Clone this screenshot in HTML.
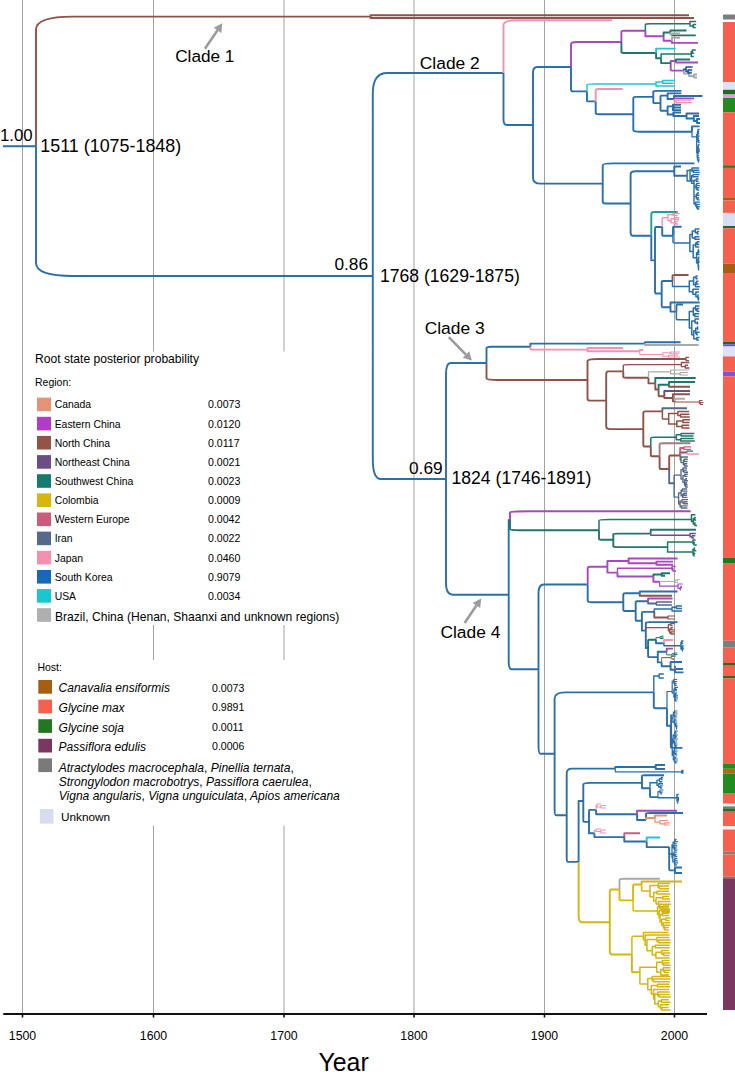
<!DOCTYPE html>
<html><head><meta charset="utf-8"><style>
html,body{margin:0;padding:0;background:#fff;}
svg{display:block;font-family:"Liberation Sans",sans-serif;}
</style></head><body>
<svg width="735" height="1072" viewBox="0 0 735 1072">
<rect width="735" height="1072" fill="#fff"/>
<line x1="22.5" y1="0" x2="22.5" y2="1014" stroke="#a3a3a3" stroke-width="1"/>
<line x1="153.5" y1="0" x2="153.5" y2="1014" stroke="#a3a3a3" stroke-width="1"/>
<line x1="284.0" y1="0" x2="284.0" y2="1014" stroke="#a3a3a3" stroke-width="1"/>
<line x1="414.0" y1="0" x2="414.0" y2="1014" stroke="#a3a3a3" stroke-width="1"/>
<line x1="544.5" y1="0" x2="544.5" y2="1014" stroke="#a3a3a3" stroke-width="1"/>
<line x1="674.5" y1="0" x2="674.5" y2="1014" stroke="#a3a3a3" stroke-width="1"/>
<rect x="24" y="351.5" width="320" height="273.5" fill="#fff"/>
<rect x="24" y="660" width="320" height="165.5" fill="#fff"/>
<text x="35" y="363" font-size="12.1">Root state posterior probability</text>
<text x="35" y="385.8" font-size="10.5">Region:</text>
<rect x="37" y="397.6" width="14" height="13.6" fill="#e39474"/>
<text x="54.7" y="408.4" font-size="10.4">Canada</text>
<text x="208" y="408.4" font-size="10.6">0.0073</text>
<rect x="37" y="416.8" width="14" height="13.6" fill="#b23cc6"/>
<text x="54.7" y="427.6" font-size="10.4">Eastern China</text>
<text x="208" y="427.6" font-size="10.6">0.0120</text>
<rect x="37" y="435.9" width="14" height="13.6" fill="#955247"/>
<text x="54.7" y="446.7" font-size="10.4">North China</text>
<text x="208" y="446.7" font-size="10.6">0.0117</text>
<rect x="37" y="455.1" width="14" height="13.6" fill="#6c4d85"/>
<text x="54.7" y="465.9" font-size="10.4">Northeast China</text>
<text x="208" y="465.9" font-size="10.6">0.0021</text>
<rect x="37" y="474.2" width="14" height="13.6" fill="#167a6e"/>
<text x="54.7" y="485.0" font-size="10.4">Southwest China</text>
<text x="208" y="485.0" font-size="10.6">0.0023</text>
<rect x="37" y="493.4" width="14" height="13.6" fill="#d6b60f"/>
<text x="54.7" y="504.2" font-size="10.4">Colombia</text>
<text x="208" y="504.2" font-size="10.6">0.0009</text>
<rect x="37" y="512.5" width="14" height="13.6" fill="#cc5c7c"/>
<text x="54.7" y="523.3" font-size="10.4">Western Europe</text>
<text x="208" y="523.3" font-size="10.6">0.0042</text>
<rect x="37" y="531.6" width="14" height="13.6" fill="#56698a"/>
<text x="54.7" y="542.4" font-size="10.4">Iran</text>
<text x="208" y="542.4" font-size="10.6">0.0022</text>
<rect x="37" y="550.8" width="14" height="13.6" fill="#f58fae"/>
<text x="54.7" y="561.6" font-size="10.4">Japan</text>
<text x="208" y="561.6" font-size="10.6">0.0460</text>
<rect x="37" y="570.0" width="14" height="13.6" fill="#1769b5"/>
<text x="54.7" y="580.8" font-size="10.4">South Korea</text>
<text x="208" y="580.8" font-size="10.6">0.9079</text>
<rect x="37" y="589.1" width="14" height="13.6" fill="#18c8cc"/>
<text x="54.7" y="599.9" font-size="10.4">USA</text>
<text x="208" y="599.9" font-size="10.6">0.0034</text>
<rect x="37" y="608.2" width="14" height="13.6" fill="#afafaf"/>
<text x="55" y="620.5" font-size="12.1">Brazil, China (Henan, Shaanxi and unknown regions)</text>
<text x="37.4" y="671.2" font-size="10.5">Host:</text>
<rect x="38.3" y="680.0" width="13.7" height="13.7" fill="#a75e10"/>
<text x="58.6" y="692.3" font-size="12" font-style="italic">Canavalia ensiformis</text>
<text x="212" y="691.5" font-size="10.6">0.0073</text>
<rect x="38.3" y="699.6" width="13.7" height="13.7" fill="#f5604f"/>
<text x="58.6" y="711.9" font-size="12" font-style="italic">Glycine max</text>
<text x="212" y="711.1" font-size="10.6">0.9891</text>
<rect x="38.3" y="719.2" width="13.7" height="13.7" fill="#23781f"/>
<text x="58.6" y="731.5" font-size="12" font-style="italic">Glycine soja</text>
<text x="212" y="730.7" font-size="10.6">0.0011</text>
<rect x="38.3" y="738.8" width="13.7" height="13.7" fill="#7a3860"/>
<text x="58.6" y="751.1" font-size="12" font-style="italic">Passiflora edulis</text>
<text x="212" y="750.3" font-size="10.6">0.0006</text>
<rect x="38.3" y="758.4" width="13.7" height="13.7" fill="#7a7a7a"/>
<text x="58.7" y="771.5" font-size="12.05" font-style="italic">Atractylodes macrocephala<tspan font-style="normal">,</tspan> Pinellia ternata<tspan font-style="normal">,</tspan></text>
<text x="58.7" y="785.5" font-size="12.05" font-style="italic">Strongylodon macrobotrys<tspan font-style="normal">,</tspan> Passiflora caerulea<tspan font-style="normal">,</tspan></text>
<text x="58.7" y="799.5" font-size="12.05" font-style="italic">Vigna angularis<tspan font-style="normal">,</tspan> Vigna unguiculata<tspan font-style="normal">,</tspan> Apios americana</text>
<rect x="39.9" y="809" width="13.6" height="14.6" fill="#d5ddee"/>
<text x="61" y="821" font-size="11.8">Unknown</text>
<line x1="3.3" y1="1014" x2="707" y2="1014" stroke="#111" stroke-width="2"/>
<line x1="22.5" y1="1013" x2="22.5" y2="1017.5" stroke="#111" stroke-width="1.6"/>
<line x1="153.5" y1="1013" x2="153.5" y2="1017.5" stroke="#111" stroke-width="1.6"/>
<line x1="284.0" y1="1013" x2="284.0" y2="1017.5" stroke="#111" stroke-width="1.6"/>
<line x1="414.0" y1="1013" x2="414.0" y2="1017.5" stroke="#111" stroke-width="1.6"/>
<line x1="544.5" y1="1013" x2="544.5" y2="1017.5" stroke="#111" stroke-width="1.6"/>
<line x1="674.5" y1="1013" x2="674.5" y2="1017.5" stroke="#111" stroke-width="1.6"/>
<text x="22.5" y="1040" text-anchor="middle" font-size="12.3">1500</text>
<text x="153.5" y="1040" text-anchor="middle" font-size="12.3">1600</text>
<text x="284.0" y="1040" text-anchor="middle" font-size="12.3">1700</text>
<text x="414.0" y="1040" text-anchor="middle" font-size="12.3">1800</text>
<text x="544.5" y="1040" text-anchor="middle" font-size="12.3">1900</text>
<text x="674.5" y="1040" text-anchor="middle" font-size="12.3">2000</text>
<path d="M36.0,146.3V29.6Q36.0,16.6 72.8,16.6H370.5 M370.5,16.6V15.2H689.0 M370.5,16.6V18.0H694.0 M672.5,281.0V275.6Q672.5,275.0 674.3,275.0H688.6 M486.5,363.0V378.3Q486.5,380.0 497.6,380.0H587.5 M587.5,380.0V361.1Q587.5,359.0 598.3,359.0H686.0 M587.5,380.0V398.5Q587.5,400.6 589.6,400.6H606.2 M606.2,400.6V374.3Q606.2,371.4 608.1,371.4H623.3 M623.3,371.4V377.1Q623.3,377.7 626.1,377.7H648.5 M648.5,377.7V383.4H655.3 M655.3,383.4V389.5H658.6 M669.0,384.8V386.7H690.0 M658.6,389.5V395.5Q658.6,396.2 659.2,396.2H664.3 M664.3,396.2V398.0H672.9 M672.9,398.0V394.3H690.0 M672.9,398.0V401.3H674.8 M606.2,400.6V426.2Q606.2,429.1 610.3,429.1H643.3 M643.3,429.1V413.2Q643.3,411.4 645.4,411.4H662.4 M643.3,429.1V444.8Q643.3,446.5 644.1,446.5H650.8 M650.8,446.5V455.3Q650.8,456.3 651.8,456.3H659.6 M659.6,456.3V467.7Q659.6,469.0 660.7,469.0H669.2 M669.2,469.0V456.9Q669.2,455.5 670.4,455.5H680.2 M680.2,455.5V452.5H687.0 M639.8,593.3V595.8H672.0 M654.3,611.9V617.5H668.0" stroke="#8e5248" stroke-width="1.9" fill="none" stroke-linejoin="round"/>
<path d="M36.0,146.3V263.0Q36.0,276.0 73.0,276.0H372.8 M372.8,276.0V93.3Q372.8,73.0 387.2,73.0H503.5 M503.5,73.0V119.8Q503.5,125.0 506.7,125.0H533.0 M533.0,125.0V72.8Q533.0,67.0 537.2,67.0H571.0 M571.0,67.0V89.0Q571.0,91.4 572.8,91.4H587.0 M587.0,91.4V100.4Q587.0,101.4 588.0,101.4H595.7 M595.7,101.4V113.0Q595.7,114.3 599.8,114.3H633.3 M633.3,114.3V98.6Q633.3,96.9 635.5,96.9H653.3 M653.3,96.9V91.5Q653.3,90.9 656.4,90.9H681.4 M653.3,96.9V102.5Q653.3,103.1 654.1,103.1H660.5 M660.5,103.1V96.3Q660.5,95.6 661.3,95.6H667.6 M667.6,95.6V93.4H681.4 M667.6,95.6V99.0H674.0 M674.0,99.0V96.0H702.4 M660.5,103.1V109.9Q660.5,110.7 661.3,110.7H667.6 M667.6,110.7V106.4H672.9 M672.9,106.4V104.8H681.0 M672.9,106.4V107.5H681.0 M672.9,106.4V110.2H681.0 M667.6,110.7V114.5H673.3 M673.3,114.5V112.6H681.0 M673.3,114.5V116.0H686.5 M686.5,116.0V113.5H699.0 M686.5,116.0V118.5H693.8 M693.8,118.5V116.0H699.0 M693.8,118.5V121.0H697.0 M697.0,121.0V119.0H700.0 M697.0,121.0V123.0H700.0 M633.3,114.3V130.0Q633.3,131.7 639.8,131.7H692.0 M692.0,131.7V126.4H699.5 M533.0,125.0V177.7Q533.0,183.6 540.7,183.6H602.7 M602.7,183.6V165.4Q602.7,163.4 612.8,163.4H694.5 M602.7,183.6V201.5Q602.7,203.5 605.8,203.5H630.6 M630.6,203.5V174.4Q630.6,171.2 635.4,171.2H674.3 M674.3,171.2V166.5H681.0 M674.3,171.2V175.8H687.1 M630.6,203.5V232.6Q630.6,235.8 632.9,235.8H651.3 M651.3,235.8V260.4H655.0 M655.0,260.4V230.3Q655.0,227.0 655.8,227.0H662.2 M662.2,227.0V234.9Q662.2,235.8 663.4,235.8H673.0 M673.0,235.8V227.7Q673.0,226.8 673.9,226.8H681.6 M655.0,260.4V290.2Q655.0,293.5 655.7,293.5H661.7 M661.7,293.5V282.2Q661.7,281.0 662.9,281.0H672.5 M661.7,293.5V305.8Q661.7,307.2 662.7,307.2H670.5 M670.5,307.2V302.5H699.7 M670.5,307.2V311.6H676.4 M676.4,311.6V305.3Q676.4,304.6 677.1,304.6H683.0 M372.8,276.0V458.7Q372.8,479.0 380.9,479.0H446.0 M446.0,479.0V374.6Q446.0,363.0 450.5,363.0H486.5 M486.5,363.0V348.3Q486.5,346.7 491.3,346.7H530.4 M530.4,346.7V343.6H645.0 M645.0,343.6V342.3H680.6 M446.0,479.0V583.1Q446.0,594.7 452.9,594.7H508.7 M508.7,594.7V520.0H510.0 M508.7,594.7V661.8Q508.7,669.3 512.0,669.3H538.5 M538.5,669.3V593.0Q538.5,584.5 543.9,584.5H587.7 M587.7,584.5V600.4Q587.7,602.2 591.6,602.2H623.3 M623.3,602.2V594.2Q623.3,593.3 625.1,593.3H639.8 M639.8,593.3V591.5H677.5 M623.3,602.2V610.1Q623.3,611.0 624.7,611.0H635.7 M635.7,611.0V602.3Q635.7,601.3 637.1,601.3H648.1 M635.7,611.0V619.7Q635.7,620.7 636.4,620.7H641.9 M641.9,620.7V612.8Q641.9,611.9 643.3,611.9H654.3 M641.9,620.7V630.6H645.8 M645.8,630.6V623.0Q645.8,622.1 649.3,622.1H677.5 M645.8,630.6V648.0H648.1 M656.0,639.8V643.3H664.0 M648.1,648.0V656.2Q648.1,657.1 649.2,657.1H657.8 M657.8,657.1V651.8H666.7 M657.8,657.1V662.4H661.7 M661.7,662.4V666.3H670.6 M670.6,666.3V662.0H682.0 M670.6,666.3V669.8H675.0 M675.0,669.8V672.4H683.5 M675.0,669.8V669.0H683.0 M538.5,669.3V745.3Q538.5,753.8 540.3,753.8H554.6 M554.6,753.8V698.5Q554.6,692.4 565.5,692.4H653.8 M653.8,692.4V706.6Q653.8,708.2 655.3,708.2H667.0 M667.0,708.2V725.7H670.8 M670.8,725.7V745.7Q670.8,747.9 672.1,747.9H682.4 M554.6,753.8V809.1Q554.6,815.3 555.9,815.3H566.7 M566.7,815.3V773.3Q566.7,768.6 572.0,768.6H615.3 M615.3,768.6V767.0H655.7 M655.7,767.0V765.0H665.0 M655.7,767.0V769.0H665.0 M682.0,771.8V770.8H683.5 M682.0,771.8V772.8H683.5 M566.7,815.3V857.2Q566.7,861.9 568.0,861.9H578.6 M578.6,861.9V801.0H583.3 M583.3,801.0V784.7Q583.3,782.9 589.8,782.9H642.0 M642.0,782.9V776.0Q642.0,775.2 644.4,775.2H664.0 M642.0,782.9V788.2H650.0 M650.0,788.2V796.2Q650.0,797.1 650.9,797.1H658.0 M583.3,801.0V819.8Q583.3,821.9 583.9,821.9H589.0 M589.0,821.9V811.1Q589.0,809.9 589.8,809.9H596.1 M596.1,809.9V814.3H637.1 M637.1,814.3V820.0H646.0 M646.0,820.0V813.7Q646.0,813.0 650.1,813.0H683.0 M589.0,821.9V833.3H594.4 M594.4,833.3V837.1H624.3 M624.3,837.1V841.5H646.7 M646.7,841.5V847.1H669.2 M669.2,847.1V868.1Q669.2,870.4 669.8,870.4H675.0 M675.0,870.4V867.5H682.0 M675.0,870.4V873.0H682.0 M3,146.3H36" stroke="#2a6fa8" stroke-width="1.9" fill="none" stroke-linejoin="round"/>
<path d="M503.5,73.0V25.6Q503.5,20.3 515.4,20.3H612.0 M595.7,101.4V90.2Q595.7,89.0 598.7,89.0H622.7 M530.4,346.7V349.6H587.6 M587.6,349.6V348.0H622.9 M587.6,349.6V351.3H639.8 M639.8,351.3V350.0H643.0 M664.0,643.3V640.0H673.0" stroke="#f291b4" stroke-width="1.9" fill="none" stroke-linejoin="round"/>
<path d="M571.0,67.0V44.5Q571.0,42.0 576.5,42.0H621.4 M621.4,42.0V31.8Q621.4,30.7 624.0,30.7H645.4 M645.4,30.7V36.2H663.6 M663.6,36.2V40.7H671.9 M671.9,40.7V42.9H698.0 M670.7,63.1V61.0H676.0 M676.0,61.0V62.5H698.0 M670.7,63.1V69.8Q670.7,70.6 672.1,70.6H683.8 M674.0,99.0V98.4H694.0 M510.0,520.0V512.2Q510.0,511.3 529.9,511.3H690.6 M587.7,584.5V568.6Q587.7,566.8 589.9,566.8H607.4 M607.4,566.8V561.0H628.6 M628.6,561.0V558.5H677.5 M628.6,561.0V563.2H656.4 M656.4,563.2V561.6H673.0 M656.4,563.2V564.8H673.0 M607.4,566.8V572.6H617.5 M617.5,572.6V576.5H653.4 M653.4,576.5V581.8H659.6 M648.1,601.3V598.5H672.5 M666.7,651.8V648.6H673.0 M675.0,669.8V665.8H675.0 M637.1,814.3V810.7H677.0" stroke="#a848bc" stroke-width="1.9" fill="none" stroke-linejoin="round"/>
<path d="M645.4,30.7V24.4Q645.4,23.8 650.3,23.8H690.0 M690.0,23.8V21.5H696.2 M690.0,23.8V26.0H693.2 M693.2,26.0V24.5H696.2 M693.2,26.0V27.5H695.8 M661.1,58.2V54.1H691.3 M691.3,54.1V51.6H692.4 M692.4,51.6V50.0H695.8 M692.4,51.6V53.2H693.9 M691.3,54.1V56.5H693.8 M650.8,446.5V438.2Q650.8,437.2 653.6,437.2H676.3 M676.3,437.2V434.8H681.1 M681.1,434.8V433.5H694.4 M681.1,434.8V436.0H693.5 M676.3,437.2V439.8H680.8 M680.8,439.8V438.5H693.6 M680.8,439.8V441.0H694.8 M599.0,530.3V520.5Q599.0,519.4 609.2,519.4H691.5 M691.5,519.4V514.8H695.4 M691.5,519.4V521.4H693.3 M693.3,521.4V518.8H694.6 M694.6,518.8V517.4H695.8 M694.6,518.8V520.1H696.1 M693.3,521.4V524.1H694.9 M694.9,524.1V522.8H695.4 M694.9,524.1V525.4H697.0 M667.6,547.1V541.9H693.0 M693.0,541.9V540.0H695.7 M693.0,541.9V543.8H694.0 M694.0,543.8V542.5H695.0 M694.0,543.8V545.0H696.8 M667.6,547.1V552.0H693.0 M693.0,552.0V549.3H694.4 M694.4,549.3V548.0H694.9 M694.4,549.3V550.7H696.3 M693.0,552.0V554.7H693.9 M693.9,554.7V553.3H695.3 M693.9,554.7V556.0H694.7" stroke="#1f766c" stroke-width="1.5" fill="none" stroke-linejoin="round"/>
<path d="M663.6,36.2V32.5H670.4 M670.4,32.5V30.5H686.5 M672.0,34.5V35.4H695.8 M621.4,42.0V51.9Q621.4,53.0 625.2,53.0H656.1 M656.1,53.0V58.2H661.1 M661.1,58.2V63.1H670.7 M676.0,61.0V59.5H690.0 M655.3,383.4V378.0H695.7 M658.6,389.5V384.8H669.0 M669.0,384.8V382.0H695.0 M510.0,520.0V529.3Q510.0,530.3 519.8,530.3H599.0 M599.0,530.3V538.8Q599.0,539.8 600.6,539.8H613.3 M613.3,539.8V534.2Q613.3,533.6 617.4,533.6H650.7 M650.7,533.6V529.7H696.0 M613.3,539.8V546.4Q613.3,547.1 619.3,547.1H667.6 M653.4,576.5V574.5H661.7 M661.7,574.5V573.2H670.0 M661.7,574.5V575.8H665.0 M648.1,648.0V640.6Q648.1,639.8 649.0,639.8H656.0" stroke="#1f766c" stroke-width="1.9" fill="none" stroke-linejoin="round"/>
<path d="M670.4,32.5V34.5H672.0 M672.0,34.5V33.5H680.0 M671.9,40.7V37.7H680.0 M683.8,70.6V73.5H689.0 M689.0,73.5V72.5H692.0 M689.0,73.5V76.0H694.0 M694.0,76.0V74.5H697.0 M694.0,76.0V77.5H697.0 M645.0,343.6V345.0H698.6 M674.8,401.3V398.8H685.0 M619.5,889.5V879.9Q619.5,878.8 624.0,878.8H660.0" stroke="#a9a9a9" stroke-width="1.9" fill="none" stroke-linejoin="round"/>
<path d="M656.1,53.0V48.6H675.6 M646.7,841.5V837.5H660.0" stroke="#25c4cc" stroke-width="1.9" fill="none" stroke-linejoin="round"/>
<path d="M683.8,70.6V69.2H686.0 M686.0,69.2V67.0H692.6 M686.0,69.2V71.5H688.1 M688.1,71.5V70.0H692.2 M688.1,71.5V73.0H691.6" stroke="#1f4f8a" stroke-width="1.5" fill="none" stroke-linejoin="round"/>
<path d="M587.0,91.4V84.7Q587.0,83.9 594.6,83.9H656.0 M656.0,83.9V81.9H662.6 M662.6,81.9V80.5H674.6 M662.6,81.9V83.2H673.5 M656.0,83.9V86.0H674.3" stroke="#25c4cc" stroke-width="1.5" fill="none" stroke-linejoin="round"/>
<path d="M674.0,99.0V101.4H676.0 M676.0,101.4V100.2H691.3 M676.0,101.4V102.6H691.8" stroke="#f291b4" stroke-width="1.2" fill="none" stroke-linejoin="round"/>
<path d="M692.0,131.7V136.9H696.7 M696.7,136.9V134.5H697.5 M697.5,134.5V131.1H698.0 M698.0,131.1V129.5H699.7 M698.0,131.1V132.8H698.3 M698.3,132.8V131.7H699.2 M698.3,132.8V133.8H699.2 M697.5,134.5V137.9H697.9 M697.9,137.9V136.0H699.5 M697.9,137.9V139.8H698.1 M698.1,139.8V138.2H698.9 M698.1,139.8V141.4H698.5 M698.5,141.4V140.3H699.7 M698.5,141.4V142.5H699.7 M696.7,136.9V152.8H697.2 M697.2,152.8V148.2H698.1 M698.1,148.2V145.8H698.5 M698.5,145.8V144.7H699.6 M698.5,145.8V146.8H699.0 M698.1,148.2V150.6H698.4 M698.4,150.6V149.0H699.8 M698.4,150.6V152.2H698.5 M698.5,152.2V151.2H700.0 M698.5,152.2V153.3H698.9 M697.2,152.8V157.4H697.5 M697.5,157.4V155.5H699.0 M697.5,157.4V159.3H697.9 M697.9,159.3V157.7H699.6 M697.9,159.3V160.9H698.5 M698.5,160.9V159.8H699.8 M698.5,160.9V162.0H698.8 M669.2,847.1V854.0H672.0 M672.0,854.0V844.8H673.1 M673.1,844.8V842.2H674.5 M674.5,842.2V840.6H675.1 M675.1,840.6V839.5H676.5 M675.1,840.6V841.6H677.9 M674.5,842.2V843.8H677.1 M673.1,844.8V847.5H674.0 M674.0,847.5V845.9H677.4 M674.0,847.5V849.1H674.6 M674.6,849.1V848.0H676.7 M674.6,849.1V850.1H677.5 M672.0,854.0V857.8H672.8 M672.8,857.8V853.8H673.9 M673.9,853.8V852.2H676.8 M673.9,853.8V855.4H675.0 M675.0,855.4V854.4H676.7 M675.0,855.4V856.5H677.3 M672.8,857.8V861.8H674.4 M674.4,861.8V859.7H675.0 M675.0,859.7V858.6H677.4 M675.0,859.7V860.8H677.9 M674.4,861.8V863.9H674.9 M674.9,863.9V862.9H678.0 M674.9,863.9V865.0H676.9" stroke="#2a6fa8" stroke-width="1.302" fill="none" stroke-linejoin="round"/>
<path d="M687.1,175.8V170.5H690.0 M690.0,170.5V169.7H692.0 M692.0,169.7V168.0H699.2 M692.0,169.7V171.3H693.4 M693.4,171.3V170.2H699.3 M693.4,171.3V172.4H699.8 M690.0,170.5V179.5H691.6 M691.6,179.5V175.7H693.0 M693.0,175.7V174.6H699.5 M693.0,175.7V176.8H698.5 M691.6,179.5V183.4H694.1 M694.1,183.4V180.1H696.3 M696.3,180.1V179.0H698.7 M696.3,180.1V181.2H698.5 M694.1,183.4V186.7H696.1 M696.1,186.7V184.5H696.7 M696.7,184.5V183.4H699.7 M696.7,184.5V185.6H699.9 M696.1,186.7V188.9H697.0 M697.0,188.9V187.8H699.3 M697.0,188.9V190.0H699.2 M687.1,175.8V181.0H694.0 M694.0,181.0V196.4H696.3 M696.3,196.4V194.1H697.4 M697.4,194.1V193.0H699.1 M697.4,194.1V195.3H699.3 M696.3,196.4V198.7H697.7 M697.7,198.7V197.6H699.0 M697.7,198.7V199.9H699.6 M694.0,181.0V204.1H695.6 M695.6,204.1V202.1H699.9 M695.6,204.1V206.1H696.7 M696.7,206.1V204.4H699.7 M696.7,206.1V207.9H697.5 M697.5,207.9V206.7H699.9 M697.5,207.9V209.0H699.3" stroke="#2a6fa8" stroke-width="1.426" fill="none" stroke-linejoin="round"/>
<path d="M651.3,235.8V214.4Q651.3,212.0 654.2,212.0H677.7" stroke="#1f9e96" stroke-width="1.9" fill="none" stroke-linejoin="round"/>
<path d="M662.2,227.0V218.6Q662.2,217.7 662.8,217.7H668.0 M668.0,217.7V214.6H673.1 M673.1,214.6V213.5H679.5 M673.1,214.6V215.6H677.7 M668.0,217.7V220.8H671.1 M671.1,220.8V218.8H675.0 M675.0,218.8V217.7H679.2 M675.0,218.8V219.8H679.0 M671.1,220.8V222.9H675.4 M675.4,222.9V221.9H677.8 M675.4,222.9V224.0H678.3" stroke="#f291b4" stroke-width="1.364" fill="none" stroke-linejoin="round"/>
<path d="M673.0,235.8V242.2Q673.0,242.9 674.9,242.9H689.9 M689.9,242.9V234.4H692.3 M692.3,234.4V230.9H695.3 M695.3,230.9V229.0H699.5 M695.3,230.9V232.8H697.4 M697.4,232.8V231.6H699.2 M697.4,232.8V234.1H698.6 M692.3,234.4V238.0H695.0 M695.0,238.0V236.7H699.4 M695.0,238.0V239.2H699.7 M689.9,242.9V251.4H693.2 M693.2,251.4V245.0H695.7 M695.7,245.0V243.1H697.2 M697.2,243.1V241.8H699.5 M697.2,243.1V244.4H699.3 M695.7,245.0V246.9H699.2 M693.2,251.4V257.8H696.6 M696.6,257.8V252.7H698.0 M698.0,252.7V250.8H698.5 M698.5,250.8V249.5H698.9 M698.5,250.8V252.1H699.6 M698.0,252.7V254.6H699.6 M696.6,257.8V263.0H698.2 M698.2,263.0V259.1H698.5 M698.5,259.1V257.2H699.5 M698.5,259.1V261.0H698.5 M698.5,261.0V259.8H699.2 M698.5,261.0V262.3H699.7 M698.2,263.0V266.8H698.5 M698.5,266.8V264.9H699.0 M698.5,266.8V268.7H698.5 M698.5,268.7V267.4H697.6 M698.5,268.7V270.0H698.3 M672.5,281.0V286.4H689.3 M689.3,286.4V281.0H693.6 M693.6,281.0V277.3H696.1 M696.1,277.3V276.0H697.6 M696.1,277.3V278.7H697.7 M693.6,281.0V284.7H695.6 M695.6,284.7V282.7H696.5 M696.5,282.7V281.3H698.5 M696.5,282.7V284.0H698.6 M695.6,284.7V286.7H699.8 M689.3,286.4V291.8H692.9 M692.9,291.8V289.3H699.0 M692.9,291.8V294.3H695.9 M695.9,294.3V292.0H699.0 M695.9,294.3V296.7H697.9 M697.9,296.7V294.7H697.7 M697.9,296.7V298.7H698.5 M698.5,298.7V297.3H697.8 M698.5,298.7V300.0H697.7 M676.4,311.6V318.9Q676.4,319.7 677.8,319.7H689.3 M689.3,319.7V311.6H693.3 M693.3,311.6V308.0H695.5 M695.5,308.0V306.0H699.5 M695.5,308.0V309.9H697.1 M697.1,309.9V308.6H699.3 M697.1,309.9V311.2H699.4 M693.3,311.6V315.2H694.8 M694.8,315.2V313.8H699.2 M694.8,315.2V316.5H698.8 M689.3,319.7V327.9H691.7 M691.7,327.9V321.0H695.1 M695.1,321.0V319.1H699.1 M695.1,321.0V323.0H697.5 M697.5,323.0V321.7H697.6 M697.5,323.0V324.3H697.6 M691.7,327.9V334.8H693.7 M693.7,334.8V330.8H695.7 M695.7,330.8V328.2H697.6 M697.6,328.2V326.9H698.3 M697.6,328.2V329.5H698.0 M695.7,330.8V333.5H696.7 M696.7,333.5V332.2H699.6 M696.7,333.5V334.8H697.8 M693.7,334.8V338.7H696.8 M696.8,338.7V337.4H699.6 M696.8,338.7V340.0H698.9 M664.0,643.3V645.7H681.0 M681.0,645.7V642.2H681.7 M681.7,642.2V641.0H683.5 M681.7,642.2V643.5H683.2 M681.0,645.7V649.1H682.4 M682.4,649.1V647.2H682.5 M682.5,647.2V646.0H683.7 M682.5,647.2V648.5H683.9 M682.4,649.1V651.0H682.1 M658.0,797.1V797.7H677.0 M677.0,797.7V794.5H678.7 M677.0,797.7V800.9H677.6 M677.6,800.9V798.8H678.3 M678.3,798.8V797.3H678.2 M678.3,798.8V800.2H678.0 M677.6,800.9V803.0H678.3" stroke="#2a6fa8" stroke-width="1.5" fill="none" stroke-linejoin="round"/>
<path d="M639.8,351.3V354.5H662.8 M662.8,354.5V352.8H670.2 M670.2,352.8V352.0H679.9 M670.2,352.8V353.7H679.4 M662.8,354.5V356.2H668.5 M668.5,356.2V355.3H677.9 M668.5,356.2V357.0H679.9" stroke="#f291b4" stroke-width="1.054" fill="none" stroke-linejoin="round"/>
<path d="M686.0,359.0V357.3H689.0 M686.0,359.0V360.7H689.0" stroke="#8e5248" stroke-width="1.3" fill="none" stroke-linejoin="round"/>
<path d="M623.3,371.4V365.2Q623.3,364.6 629.7,364.6H681.4 M681.4,364.6V362.5H689.4 M681.4,364.6V366.6H685.3 M685.3,366.6V365.2H688.0 M685.3,366.6V368.0H689.3" stroke="#8e5248" stroke-width="1.364" fill="none" stroke-linejoin="round"/>
<path d="M648.5,377.7V371.9H670.6 M670.6,371.9V370.0H689.3 M670.6,371.9V373.8H680.1 M680.1,373.8V372.5H688.0 M680.1,373.8V375.0H687.9" stroke="#a9a9a9" stroke-width="1.24" fill="none" stroke-linejoin="round"/>
<path d="M664.3,396.2V391.0H690.0" stroke="#6c4d85" stroke-width="1.9" fill="none" stroke-linejoin="round"/>
<path d="M674.8,401.3V402.0H699.5 M699.5,402.0V400.5H702.6 M699.5,402.0V403.5H700.5 M700.5,403.5V402.5H703.4 M700.5,403.5V404.5H703.0" stroke="#8e5248" stroke-width="1.24" fill="none" stroke-linejoin="round"/>
<path d="M662.4,411.4V408.2H687.0 M669.2,469.0V483.3H674.1 M648.1,601.3V603.5H656.4" stroke="#56698a" stroke-width="1.9" fill="none" stroke-linejoin="round"/>
<path d="M662.4,411.4V418.2Q662.4,419.0 663.1,419.0H668.7 M668.7,419.0V413.6H677.9 M677.9,413.6V411.5H689.2 M677.9,413.6V415.6H680.6 M680.6,415.6V414.2H689.5 M680.6,415.6V417.0H689.8 M668.7,419.0V423.9H676.8 M676.8,423.9V421.1H682.9 M682.9,421.1V419.8H690.0 M682.9,421.1V422.5H689.5 M676.8,423.9V426.6H682.1 M682.1,426.6V425.2H689.2 M682.1,426.6V428.0H689.6" stroke="#8e5248" stroke-width="1.5" fill="none" stroke-linejoin="round"/>
<path d="M659.6,456.3V444.6Q659.6,443.3 663.0,443.3H690.4" stroke="#9a7f78" stroke-width="1.9" fill="none" stroke-linejoin="round"/>
<path d="M680.2,455.5V448.0H684.0 M624.3,837.1V833.3H640.0" stroke="#cc5c7c" stroke-width="1.9" fill="none" stroke-linejoin="round"/>
<path d="M684.0,448.0V446.8H691.0 M684.0,448.0V449.3H691.0" stroke="#cc5c7c" stroke-width="1.3" fill="none" stroke-linejoin="round"/>
<path d="M687.0,452.5V451.2H693.0" stroke="#1f766c" stroke-width="1.3" fill="none" stroke-linejoin="round"/>
<path d="M687.0,452.5V454.0H699.0" stroke="#f291b4" stroke-width="1.3" fill="none" stroke-linejoin="round"/>
<path d="M680.2,455.5V459.8H681.0 M681.0,459.8V457.0H687.9 M681.0,459.8V462.6H683.4 M683.4,462.6V460.4H684.2 M684.2,460.4V459.2H687.7 M684.2,460.4V461.5H687.6 M683.4,462.6V464.9H684.6 M684.6,464.9V463.8H687.3 M684.6,464.9V466.0H687.8 M674.1,483.3V475.9Q674.1,475.1 674.9,475.1H681.0 M681.0,475.1V469.6H683.0 M683.0,469.6V468.0H687.1 M683.0,469.6V471.2H684.0 M684.0,471.2V470.1H687.1 M684.0,471.2V472.2H688.0 M681.0,475.1V479.0H683.0 M683.0,479.0V475.4H684.8 M684.8,475.4V474.3H687.8 M684.8,475.4V476.4H687.5 M683.0,479.0V482.5H684.7 M684.7,482.5V479.6H686.0 M686.0,479.6V478.6H687.0 M686.0,479.6V480.7H687.9 M684.7,482.5V485.4H685.5 M685.5,485.4V483.8H686.1 M686.1,483.8V482.8H687.2 M686.1,483.8V484.9H687.8 M685.5,485.4V487.0H687.8 M674.1,483.3V497.1H678.6 M678.6,497.1V493.0H681.1 M681.1,493.0V490.1H682.4 M682.4,490.1V489.0H687.0 M682.4,490.1V491.1H687.5 M681.1,493.0V495.9H682.7 M682.7,495.9V494.3H683.9 M683.9,494.3V493.2H687.1 M683.9,494.3V495.3H687.1 M682.7,495.9V497.4H687.4 M678.6,497.1V504.0H680.1 M680.1,504.0V501.1H682.0 M682.0,501.1V499.6H688.0 M682.0,501.1V502.7H683.8 M683.8,502.7V501.7H687.5 M683.8,502.7V503.8H688.0 M680.1,504.0V506.9H681.4 M681.4,506.9V505.9H687.7 M681.4,506.9V508.0H687.4" stroke="#56698a" stroke-width="1.364" fill="none" stroke-linejoin="round"/>
<path d="M650.7,533.6V535.2H690.0 M690.0,535.2V533.5H695.8 M690.0,535.2V536.9H692.1 M692.1,536.9V535.8H695.3 M692.1,536.9V538.0H694.2" stroke="#6c4d85" stroke-width="1.364" fill="none" stroke-linejoin="round"/>
<path d="M617.5,572.6V568.2H672.0 M672.0,568.2V566.5H675.6 M672.0,568.2V569.9H672.9 M672.9,569.9V568.8H673.6 M672.9,569.9V571.0H676.0" stroke="#a848bc" stroke-width="1.364" fill="none" stroke-linejoin="round"/>
<path d="M659.6,581.8V581.4H675.0 M675.0,581.4V580.2H677.2 M677.2,580.2V579.5H679.7 M677.2,580.2V581.0H678.1 M675.0,581.4V582.5H677.8" stroke="#a9a9a9" stroke-width="1.0" fill="none" stroke-linejoin="round"/>
<path d="M659.6,581.8V586.2H678.0 M678.0,586.2V584.0H682.7 M678.0,586.2V588.5H680.2 M680.2,588.5V587.0H681.2 M681.2,587.0V586.0H681.4 M681.2,587.0V588.0H682.0 M680.2,588.5V590.0H681.0" stroke="#a848bc" stroke-width="1.24" fill="none" stroke-linejoin="round"/>
<path d="M656.4,603.5V602.0H672.0 M656.4,603.5V605.0H672.0" stroke="#56698a" stroke-width="1.3" fill="none" stroke-linejoin="round"/>
<path d="M654.3,611.9V609.1H672.0 M672.0,609.1V607.2H676.4 M676.4,607.2V606.0H682.0 M676.4,607.2V608.5H681.9 M672.0,609.1V611.0H682.2" stroke="#2a6fa8" stroke-width="1.488" fill="none" stroke-linejoin="round"/>
<path d="M668.0,617.5V616.0H675.0 M668.0,617.5V619.0H675.0" stroke="#8e5248" stroke-width="1.2" fill="none" stroke-linejoin="round"/>
<path d="M645.8,630.6V627.7H668.4 M668.4,627.7V624.5H670.8 M670.8,624.5V623.5H674.7 M670.8,624.5V625.6H672.6 M668.4,627.7V630.9H669.7 M669.7,630.9V628.8H671.1 M671.1,628.8V627.7H673.0 M671.1,628.8V629.8H674.7 M669.7,630.9V633.0H671.0 M671.0,633.0V631.9H674.7 M671.0,633.0V634.0H674.4" stroke="#8e5248" stroke-width="1.302" fill="none" stroke-linejoin="round"/>
<path d="M656.0,639.8V637.6H660.0 M660.0,637.6V636.6H661.4 M661.4,636.6V636.0H663.4 M661.4,636.6V637.2H663.6 M660.0,637.6V638.5H663.4 M666.7,651.8V654.9H672.0 M672.0,654.9V653.8H673.7 M673.7,653.8V653.0H677.4 M673.7,653.8V654.5H677.3 M672.0,654.9V656.0H675.9" stroke="#1f766c" stroke-width="1.0" fill="none" stroke-linejoin="round"/>
<path d="M661.7,662.4V657.6H671.0 M671.0,657.6V656.5H673.5 M671.0,657.6V658.8H673.0 M673.0,658.8V658.0H673.0 M673.0,658.8V659.5H674.3" stroke="#8e5248" stroke-width="1.0" fill="none" stroke-linejoin="round"/>
<path d="M653.8,692.4V676.0H659.1 M659.1,676.0V674.0H663.8 M659.1,676.0V678.0H663.8" stroke="#2a6fa8" stroke-width="1.4" fill="none" stroke-linejoin="round"/>
<path d="M667.0,708.2V691.5H672.2 M672.2,691.5V681.2H673.7 M673.7,681.2V679.5H677.1 M673.7,681.2V682.9H674.4 M674.4,682.9V681.5H677.3 M674.4,682.9V684.4H674.8 M674.8,684.4V683.4H676.7 M674.8,684.4V685.4H676.8 M672.2,691.5V693.1H673.9 M673.9,693.1V688.8H675.2 M675.2,688.8V687.3H678.0 M675.2,688.8V690.2H676.0 M676.0,690.2V689.3H677.1 M676.0,690.2V691.2H676.6 M673.9,693.1V697.3H674.8 M674.8,697.3V694.6H675.4 M675.4,694.6V693.2H677.1 M675.4,694.6V696.1H675.7 M675.7,696.1V695.1H677.9 M675.7,696.1V697.1H677.8 M674.8,697.3V700.0H675.4 M675.4,700.0V699.0H677.9 M675.4,700.0V701.0H677.2 M670.8,725.7V714.8H671.5 M671.5,714.8V718.2H673.0 M673.0,718.2V714.0H673.5 M673.5,714.0V712.0H674.6 M674.6,712.0V711.0H677.4 M674.6,712.0V713.0H677.5 M673.5,714.0V716.0H674.8 M674.8,716.0V715.0H677.3 M674.8,716.0V717.0H677.1 M673.0,718.2V722.4H674.5 M674.5,722.4V720.0H674.9 M674.9,720.0V719.0H676.6 M674.9,720.0V721.0H677.2 M674.5,722.4V724.8H675.6 M675.6,724.8V723.0H677.4 M675.6,724.8V726.5H676.3 M676.3,726.5V725.0H677.6 M676.3,726.5V728.0H676.5 M676.5,728.0V727.0H677.6 M676.5,728.0V729.0H677.0 M671.5,714.8V747.1H672.2 M672.2,747.1V738.8H673.2 M673.2,738.8V734.8H674.8 M674.8,734.8V732.0H675.4 M675.4,732.0V731.0H677.9 M675.4,732.0V733.0H677.1 M674.8,734.8V737.5H675.2 M675.2,737.5V736.0H675.9 M675.9,736.0V735.0H677.8 M675.9,736.0V737.0H677.1 M675.2,737.5V739.0H678.0 M673.2,738.8V742.8H674.4 M674.4,742.8V741.0H677.1 M674.4,742.8V744.5H674.9 M674.9,744.5V743.0H677.4 M674.9,744.5V746.0H675.7 M675.7,746.0V745.0H677.6 M675.7,746.0V747.0H677.1 M672.2,747.1V755.4H673.3 M673.3,755.4V750.8H674.3 M674.3,750.8V749.0H676.9 M674.3,750.8V752.5H674.7 M674.7,752.5V751.0H677.8 M674.7,752.5V754.0H675.8 M675.8,754.0V753.0H676.9 M675.8,754.0V755.0H677.3 M673.3,755.4V760.0H674.4 M674.4,760.0V758.0H675.2 M675.2,758.0V757.0H676.7 M675.2,758.0V759.0H677.9 M674.4,760.0V762.0H675.6 M675.6,762.0V761.0H677.9 M675.6,762.0V763.0H676.9 M658.0,797.1V791.5H660.0 M660.0,791.5V790.0H663.5 M660.0,791.5V793.0H661.0 M661.0,793.0V792.0H663.1 M661.0,793.0V794.0H662.0" stroke="#2a6fa8" stroke-width="1.24" fill="none" stroke-linejoin="round"/>
<path d="M615.3,768.6V771.8H682.0" stroke="#2a6fa8" stroke-width="1.2" fill="none" stroke-linejoin="round"/>
<path d="M650.0,788.2V782.8H657.0 M657.0,782.8V780.1H659.5 M659.5,780.1V778.5H661.5 M661.5,778.5V777.5H663.0 M661.5,778.5V779.6H662.6 M659.5,780.1V781.7H662.4 M657.0,782.8V785.4H658.6 M658.6,785.4V783.8H663.0 M658.6,785.4V787.0H660.4 M660.4,787.0V785.9H662.7 M660.4,787.0V788.0H662.1" stroke="#2a6fa8" stroke-width="1.364" fill="none" stroke-linejoin="round"/>
<path d="M596.1,809.9V805.5H597.0 M597.0,805.5V804.0H601.0 M597.0,805.5V807.0H601.0 M601.0,807.0V805.5H606.0 M601.0,807.0V808.0H606.0 M594.4,833.3V830.5H596.0 M596.0,830.5V829.0H601.0 M596.0,830.5V831.5H601.0 M601.0,831.5V830.0H606.0 M601.0,831.5V833.0H606.0" stroke="#f291b4" stroke-width="1.1" fill="none" stroke-linejoin="round"/>
<path d="M646.0,820.0V818.0H655.0 M655.0,818.0V815.5H667.0" stroke="#e39474" stroke-width="1.9" fill="none" stroke-linejoin="round"/>
<path d="M655.0,818.0V822.2H660.0 M660.0,822.2V820.5H668.1 M660.0,822.2V823.9H664.9 M664.9,823.9V822.8H669.7 M664.9,823.9V825.0H669.5" stroke="#e39474" stroke-width="1.24" fill="none" stroke-linejoin="round"/>
<path d="M578.6,861.9V916.2Q578.6,922.2 582.0,922.2H609.8 M609.8,922.2V892.8Q609.8,889.5 610.9,889.5H619.5 M619.5,889.5V899.3Q619.5,900.4 621.0,900.4H633.1 M633.1,900.4V886.1Q633.1,884.5 634.0,884.5H641.6 M641.6,884.5V881.5H682.0 M609.8,922.2V951.3Q609.8,954.5 612.2,954.5H631.9 M631.9,954.5V970.4Q631.9,972.2 632.8,972.2H639.9" stroke="#d4b611" stroke-width="1.9" fill="none" stroke-linejoin="round"/>
<path d="M641.6,884.5V890.4Q641.6,891.1 642.5,891.1H650.0 M650.0,891.1V885.4H658.2 M658.2,885.4V883.5H670.2 M658.2,885.4V887.4H659.4 M659.4,887.4V886.1H669.0 M659.4,887.4V888.7H669.1 M650.0,891.1V896.7H653.7 M653.7,896.7V892.6H657.0 M657.0,892.6V891.3H669.0 M657.0,892.6V893.9H670.2 M653.7,896.7V900.9H656.1 M656.1,900.9V897.8H662.7 M662.7,897.8V896.5H669.0 M662.7,897.8V899.0H669.8 M656.1,900.9V904.1H658.5 M658.5,904.1V901.6H670.4 M658.5,904.1V906.5H659.8 M659.8,906.5V904.2H670.9 M659.8,906.5V908.8H661.0 M661.0,908.8V906.8H669.1 M661.0,908.8V910.7H662.2 M662.2,910.7V909.4H670.3 M662.2,910.7V912.0H670.3 M633.1,900.4V909.8Q633.1,910.9 635.8,910.9H657.5 M657.5,910.9V907.2H663.1 M663.1,907.2V906.0H669.1 M663.1,907.2V908.4H669.1 M657.5,910.9V914.5H659.1 M659.1,914.5V910.8H669.7 M659.1,914.5V918.2H660.0 M660.0,918.2V914.4H662.3 M662.3,914.4V913.2H668.9 M662.3,914.4V915.6H669.0 M660.0,918.2V922.0H661.6 M661.6,922.0V919.2H665.8 M665.8,919.2V918.0H670.2 M665.8,919.2V920.4H669.7 M661.6,922.0V924.9H663.2 M663.2,924.9V922.8H670.1 M663.2,924.9V927.0H664.0 M664.0,927.0V925.2H670.1 M664.0,927.0V928.8H664.9 M664.9,928.8V927.6H668.9 M664.9,928.8V930.0H668.9 M631.9,954.5V938.1Q631.9,936.3 633.2,936.3H643.4 M643.4,936.3V932.5H668.5 M643.4,936.3V940.1H645.2 M645.2,940.1V935.0H669.7 M645.2,940.1V945.2H647.0 M647.0,945.2V939.5H656.9 M656.9,939.5V937.6H669.5 M656.9,939.5V941.4H658.7 M658.7,941.4V940.1H670.6 M658.7,941.4V942.7H670.5 M647.0,945.2V950.8H652.3 M652.3,950.8V946.5H655.2 M655.2,946.5V945.2H669.7 M655.2,946.5V947.8H669.9 M652.3,950.8V955.1H655.9 M655.9,955.1V952.3H661.8 M661.8,952.3V950.4H669.1 M661.8,952.3V954.2H663.6 M663.6,954.2V952.9H670.2 M663.6,954.2V955.5H669.4 M655.9,955.1V958.0H669.7 M639.9,972.2V967.3H656.7 M656.7,967.3V962.3H662.3 M662.3,962.3V960.5H669.6 M662.3,962.3V964.1H663.6 M663.6,964.1V962.9H669.7 M663.6,964.1V965.3H670.7 M656.7,967.3V972.3H660.8 M660.8,972.3V969.6H663.3 M663.3,969.6V967.8H670.4 M663.3,969.6V971.4H664.7 M664.7,971.4V970.2H670.4 M664.7,971.4V972.6H669.0 M660.8,972.3V975.0H668.8 M639.9,972.2V982.9Q639.9,984.1 640.8,984.1H647.8 M647.8,984.1V978.4H652.2 M652.2,978.4V976.5H670.4 M652.2,978.4V980.4H653.3 M653.3,980.4V979.1H670.6 M653.3,980.4V981.7H670.0 M647.8,984.1V989.8H651.3 M651.3,989.8V985.5H657.5 M657.5,985.5V984.2H669.3 M657.5,985.5V986.8H670.0 M651.3,989.8V994.1H653.6 M653.6,994.1V989.4H669.1 M653.6,994.1V998.9H654.8 M654.8,998.9V993.9H657.8 M657.8,993.9V992.0H669.6 M657.8,993.9V995.8H659.0 M659.0,995.8V994.5H670.1 M659.0,995.8V997.1H670.8 M654.8,998.9V1003.9H658.3 M658.3,1003.9V1001.0H661.4 M661.4,1001.0V999.7H668.8 M661.4,1001.0V1002.3H670.4 M658.3,1003.9V1006.8H660.6 M660.6,1006.8V1004.8H669.4 M660.6,1006.8V1008.7H661.8 M661.8,1008.7V1007.4H668.6 M661.8,1008.7V1010.0H670.5" stroke="#d4b611" stroke-width="1.5" fill="none" stroke-linejoin="round"/>
<rect x="723" y="14.5" width="12" height="5.0" fill="#7d7d7d"/>
<rect x="723" y="22.0" width="12" height="60.0" fill="#f6604f"/>
<rect x="723" y="82.0" width="12" height="7.8" fill="#dde3f2"/>
<rect x="723" y="89.8" width="12" height="4.7" fill="#1f6b1f"/>
<rect x="723" y="94.5" width="12" height="3.5" fill="#e59be0"/>
<rect x="723" y="98.0" width="12" height="14.2" fill="#238a1f"/>
<rect x="723" y="112.2" width="12" height="53.1" fill="#f6604f"/>
<rect x="723" y="165.3" width="12" height="2.6" fill="#237a1f"/>
<rect x="723" y="167.9" width="12" height="29.4" fill="#f6604f"/>
<rect x="723" y="197.3" width="12" height="3.2" fill="#a75e10"/>
<rect x="723" y="200.5" width="12" height="12.4" fill="#f6604f"/>
<rect x="723" y="212.9" width="12" height="13.1" fill="#d8def0"/>
<rect x="723" y="226.0" width="12" height="2.2" fill="#1f6b1f"/>
<rect x="723" y="228.2" width="12" height="35.5" fill="#f6604f"/>
<rect x="723" y="263.7" width="12" height="9.3" fill="#a75e10"/>
<rect x="723" y="273.0" width="12" height="68.6" fill="#f6604f"/>
<rect x="723" y="341.6" width="12" height="2.6" fill="#1f6b1f"/>
<rect x="723" y="344.2" width="12" height="2.3" fill="#6b52e0"/>
<rect x="723" y="346.5" width="12" height="9.9" fill="#dde3f2"/>
<rect x="723" y="356.4" width="12" height="15.3" fill="#f6604f"/>
<rect x="723" y="371.7" width="12" height="4.5" fill="#7a52e6"/>
<rect x="723" y="376.2" width="12" height="181.7" fill="#f6604f"/>
<rect x="723" y="557.9" width="12" height="5.2" fill="#1f7a1f"/>
<rect x="723" y="563.1" width="12" height="77.7" fill="#f6604f"/>
<rect x="723" y="640.8" width="12" height="6.9" fill="#7a8080"/>
<rect x="723" y="647.7" width="12" height="15.3" fill="#f6604f"/>
<rect x="723" y="663.0" width="12" height="2.7" fill="#2f6a1f"/>
<rect x="723" y="665.7" width="12" height="10.2" fill="#f6604f"/>
<rect x="723" y="675.9" width="12" height="2.6" fill="#2f6a1f"/>
<rect x="723" y="678.5" width="12" height="85.4" fill="#f6604f"/>
<rect x="723" y="763.9" width="12" height="4.9" fill="#238a1f"/>
<rect x="723" y="768.8" width="12" height="4.6" fill="#b06a10"/>
<rect x="723" y="773.4" width="12" height="20.3" fill="#238a1f"/>
<rect x="723" y="793.7" width="12" height="10.0" fill="#f6604f"/>
<rect x="723" y="803.7" width="12" height="2.7" fill="#e2ebec"/>
<rect x="723" y="806.4" width="12" height="1.9" fill="#6d7f70"/>
<rect x="723" y="808.3" width="12" height="3.4" fill="#2a6a2a"/>
<rect x="723" y="811.7" width="12" height="14.6" fill="#f6604f"/>
<rect x="723" y="826.3" width="12" height="3.2" fill="#f3f3f6"/>
<rect x="723" y="829.5" width="12" height="22.3" fill="#f6604f"/>
<rect x="723" y="851.8" width="12" height="2.7" fill="#8a7a70"/>
<rect x="723" y="854.5" width="12" height="22.1" fill="#f6604f"/>
<rect x="723" y="876.6" width="12" height="2.4" fill="#8a6a6a"/>
<rect x="723" y="879.0" width="12" height="131.0" fill="#7a3860"/>

<text x="0" y="140.8" font-size="16.8">1.00</text>
<text x="40.3" y="151.7" font-size="17.9">1511 (1075-1848)</text>
<text x="334.4" y="270.4" font-size="17.3">0.86</text>
<text x="379.9" y="282.3" font-size="17.6">1768 (1629-1875)</text>
<text x="409" y="474" font-size="17.3">0.69</text>
<text x="451.5" y="484.4" font-size="17.6">1824 (1746-1891)</text>
<text x="175.2" y="62.4" font-size="17.2">Clade 1</text>
<text x="419.8" y="68.6" font-size="17.4">Clade 2</text>
<text x="424.7" y="333.8" font-size="17.4">Clade 3</text>
<text x="440.4" y="637.8" font-size="17.4">Clade 4</text>
<line x1="204.9" y1="48.8" x2="217.5" y2="30.3" stroke="#9c9c9c" stroke-width="2.6"/><path d="M222.3,23.3L221.3,32.9L213.7,27.7Z" fill="#9c9c9c"/>
<line x1="448.8" y1="337.2" x2="465.9" y2="354.6" stroke="#9c9c9c" stroke-width="2.6"/><path d="M471.9,360.6L462.7,357.8L469.2,351.3Z" fill="#9c9c9c"/>
<line x1="464.6" y1="622.9" x2="476.4" y2="605.4" stroke="#9c9c9c" stroke-width="2.6"/><path d="M481.2,598.4L480.2,608.0L472.6,602.9Z" fill="#9c9c9c"/>
<text x="318.4" y="1071" font-size="24.9">Year</text>

</svg></body></html>
